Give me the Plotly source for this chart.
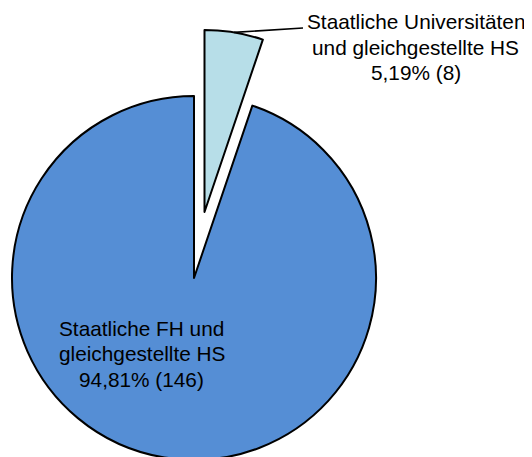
import math
import plotly.graph_objects as go

# --- data -------------------------------------------------------------
categories = ["Staatliche Universitäten und gleichgestellte HS",
              "Staatliche FH und gleichgestellte HS"]
label_lines = [["Staatliche Universitäten", "und gleichgestellte HS"],
               ["Staatliche FH und", "gleichgestellte HS"]]
counts = [8, 146]
colors = ["#B7DEE8", "#558ED5"]

# --- layout (screen pixels) --------------------------------------------
W, H = 532, 457
BODY = 8          # default <body> margin of the written page
R = 182
# exploded pie: each slice drawn by its own pie so it can sit off-centre
centres = [(204.5, 212), (194, 278)]
label_x = [415.5, 141.5]
label_y = [[21, 47, 72.5], [328, 353.5, 379]]
leader_end = (303, 28)
FONT = dict(family="Liberation Sans, Arial, sans-serif", size=20.8, color="black")

total = sum(counts)


def px(x):
    return (x - BODY) / W


def py(y):
    return 1 - (y - BODY) / H


def pct_text(v):
    return f"{100 * v / total:.2f}".replace(".", ",") + f"% ({v})"


fig = go.Figure()
for i, (cx, cy) in enumerate(centres):
    fig.add_trace(go.Pie(
        labels=categories, values=counts, sort=False,
        direction="clockwise", rotation=0,
        marker=dict(
            colors=[c if j == i else "rgba(0,0,0,0)" for j, c in enumerate(colors)],
            line=dict(color="black", width=[2 if j == i else 0 for j in range(len(counts))]),
        ),
        textinfo="none", showlegend=False,
        domain=dict(x=[px(cx - R), px(cx + R)], y=[py(cy + R), py(cy - R)]),
    ))

# labels, one annotation per line (Excel-like tight line spacing)
for i in range(len(counts)):
    lines = label_lines[i] + [pct_text(counts[i])]
    for txt, y in zip(lines, label_y[i]):
        fig.add_annotation(text=txt, x=px(label_x[i]), y=py(y),
                           xref="paper", yref="paper", showarrow=False,
                           xanchor="center", yanchor="middle", font=FONT)

# leader line from the middle of the small slice's arc to its label
cx, cy = centres[0]
mid = math.radians(360 * counts[0] / total / 2)
x0, y0 = cx + R * math.sin(mid), cy - R * math.cos(mid)
x1, y1 = leader_end
fig.add_shape(type="line", xref="paper", yref="paper",
              x0=px(x0), y0=py(y0), x1=px(x1), y1=py(y1),
              line=dict(color="black", width=1.6))

fig.update_layout(width=W, height=H, margin=dict(l=0, r=0, t=0, b=0),
                  paper_bgcolor="white", plot_bgcolor="white")

fig.write_html("out.html")
